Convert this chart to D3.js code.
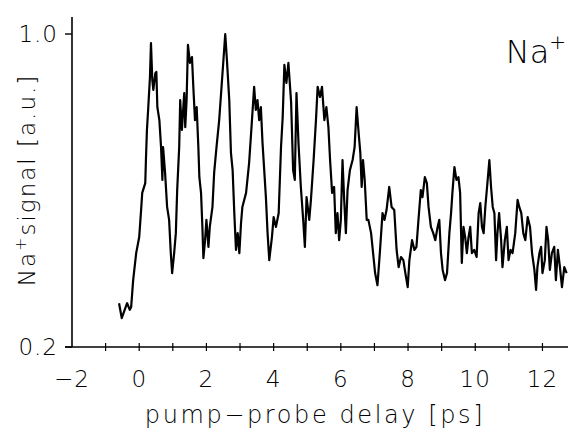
<!DOCTYPE html>
<html>
<head>
<meta charset="utf-8">
<script src="https://cdn.jsdelivr.net/npm/d3@7"></script>
<style>
  body { margin: 0; background: #fff; }
  svg text { font-family: "DejaVu Sans", "Noto Sans", sans-serif; font-weight: 200; fill: #000; }
</style>
</head>
<body>
<div id="chart"></div>
<script>
// pump-probe delay [ps]
const delay = [-0.60,-0.52,-0.36,-0.28,-0.24,-0.18,-0.09,0.00,0.05,0.09,0.18,0.20,0.23,0.27,0.32,0.35,0.39,0.42,0.48,0.51,
  0.54,0.60,0.65,0.69,0.71,0.77,0.83,0.89,0.94,0.98,1.04,1.09,1.13,1.19,1.22,1.27,1.34,1.37,1.41,1.45,
  1.51,1.57,1.61,1.66,1.71,1.76,1.79,1.84,1.88,1.91,1.96,2.00,2.06,2.10,2.18,2.23,2.30,2.38,2.45,2.50,
  2.56,2.61,2.68,2.73,2.78,2.83,2.88,2.93,2.98,3.03,3.07,3.18,3.27,3.35,3.42,3.47,3.52,3.57,3.62,3.67,
  3.72,3.77,3.82,3.87,3.95,4.00,4.07,4.15,4.22,4.27,4.32,4.38,4.44,4.52,4.58,4.63,4.68,4.74,4.81,4.88,
  4.93,4.98,5.06,5.11,5.19,5.26,5.31,5.38,5.44,5.51,5.57,5.63,5.68,5.74,5.80,5.85,5.90,5.95,6.00,6.05,
  6.10,6.15,6.20,6.27,6.35,6.41,6.47,6.53,6.58,6.62,6.66,6.71,6.77,6.82,6.90,6.96,7.02,7.09,7.16,7.24,
  7.30,7.36,7.44,7.51,7.59,7.66,7.72,7.79,7.86,7.92,7.99,8.04,8.12,8.19,8.25,8.31,8.38,8.43,8.50,8.56,
  8.61,8.68,8.75,8.81,8.88,8.93,8.98,9.03,9.10,9.16,9.23,9.28,9.32,9.38,9.44,9.50,9.55,9.60,9.65,9.70,
  9.75,9.80,9.85,9.90,9.97,10.04,10.10,10.15,10.20,10.25,10.30,10.37,10.42,10.47,10.52,10.57,10.62,10.66,10.71,10.77,
  10.81,10.88,10.94,10.99,11.05,11.11,11.19,11.26,11.31,11.37,11.43,11.49,11.56,11.63,11.69,11.76,11.81,11.85,11.91,11.96,
  12.00,12.07,12.12,12.17,12.22,12.28,12.35,12.40,12.46,12.52,12.58,12.65,12.72];

// Na+ signal [a.u.]
const signal = [0.312,0.274,0.312,0.295,0.302,0.371,0.440,0.481,0.542,0.594,0.619,0.678,0.755,0.813,0.890,0.977,0.882,0.857,0.900,0.903,
  0.813,0.780,0.711,0.627,0.711,0.645,0.558,0.525,0.440,0.389,0.440,0.491,0.601,0.711,0.831,0.755,0.849,0.762,0.831,0.972,
  0.926,0.941,0.865,0.780,0.813,0.711,0.634,0.594,0.507,0.427,0.473,0.525,0.456,0.507,0.558,0.645,0.711,0.780,0.865,0.926,
  1.000,0.934,0.831,0.696,0.652,0.542,0.448,0.491,0.440,0.517,0.558,0.594,0.670,0.773,0.865,0.806,0.831,0.780,0.813,0.721,
  0.652,0.583,0.491,0.422,0.481,0.532,0.507,0.542,0.711,0.788,0.921,0.875,0.926,0.826,0.652,0.627,0.849,0.721,0.609,0.525,
  0.456,0.583,0.525,0.576,0.678,0.780,0.865,0.839,0.865,0.780,0.813,0.762,0.678,0.594,0.609,0.491,0.542,0.473,0.525,0.678,
  0.576,0.491,0.601,0.652,0.678,0.711,0.813,0.747,0.696,0.609,0.678,0.627,0.525,0.525,0.491,0.440,0.389,0.358,0.440,0.542,
  0.525,0.550,0.609,0.558,0.550,0.448,0.404,0.430,0.422,0.389,0.353,0.422,0.473,0.448,0.456,0.525,0.601,0.583,0.634,0.619,
  0.558,0.507,0.491,0.473,0.507,0.525,0.440,0.397,0.371,0.389,0.491,0.542,0.594,0.660,0.627,0.634,0.594,0.415,0.507,0.481,
  0.440,0.481,0.507,0.440,0.448,0.430,0.542,0.568,0.507,0.491,0.558,0.627,0.678,0.609,0.558,0.542,0.422,0.491,0.542,0.473,
  0.404,0.473,0.507,0.422,0.448,0.440,0.491,0.576,0.558,0.542,0.491,0.473,0.532,0.507,0.440,0.397,0.346,0.404,0.440,0.456,
  0.389,0.422,0.507,0.473,0.397,0.440,0.456,0.371,0.448,0.404,0.353,0.404,0.389];

const xTickLabels = [-2, 0, 2, 4, 6, 8, 10, 12];
const xMinorTicks = [-1, 0, 1, 2, 3, 4, 5, 6, 7, 8, 9, 10, 11, 12];
const yTickLabels = [0.2, 1.0];

const width = 568, height = 437;

const svg = d3.select('#chart')
  .append('svg')
  .attr('width', width)
  .attr('height', height);

const x = d3.scaleLinear().domain([-2, 12.76]).range([72, 568]);
const y = d3.scaleLinear().domain([0.2, 1.0]).range([347, 34]);

const pts = delay.map((d, i) => ({ t: d, v: signal[i] }));

// axis lines
svg.append('line')
  .attr('x1', x(-2)).attr('x2', x(-2))
  .attr('y1', 17).attr('y2', y(0.2))
  .attr('stroke', '#000').attr('stroke-width', 1.6);

svg.append('line')
  .attr('x1', x(-2) - 7).attr('x2', width)
  .attr('y1', y(0.2)).attr('y2', y(0.2))
  .attr('stroke', '#000').attr('stroke-width', 1.6);

// x ticks cross the axis line
svg.selectAll('.xtick')
  .data(xMinorTicks)
  .enter()
  .append('line')
  .attr('class', 'xtick')
  .attr('x1', d => x(d)).attr('x2', d => x(d))
  .attr('y1', y(0.2) - 4).attr('y2', y(0.2) + 4)
  .attr('stroke', '#000').attr('stroke-width', 1.2);

svg.selectAll('.xlab')
  .data(xTickLabels)
  .enter()
  .append('text')
  .attr('class', 'xlab')
  .attr('x', d => x(d))
  .attr('y', 387)
  .attr('text-anchor', 'middle')
  .style('font-size', '23px')
  .style('letter-spacing', '1px')
  .text(d => d < 0 ? '\u2212' + Math.abs(d) : d);

// y ticks
svg.selectAll('.ytick')
  .data(yTickLabels)
  .enter()
  .append('line')
  .attr('class', 'ytick')
  .attr('x1', x(-2) - 7).attr('x2', x(-2))
  .attr('y1', d => y(d)).attr('y2', d => y(d))
  .attr('stroke', '#000').attr('stroke-width', 1.4);

svg.selectAll('.ylab')
  .data(yTickLabels)
  .enter()
  .append('text')
  .attr('class', 'ylab')
  .attr('x', 58)
  .attr('y', d => y(d) + 8)
  .attr('text-anchor', 'end')
  .style('font-size', '23px')
  .style('letter-spacing', '1px')
  .text(d => d.toFixed(1));

// axis titles
svg.append('text')
  .attr('x', 315)
  .attr('y', 423)
  .attr('text-anchor', 'middle')
  .style('font-size', '24px')
  .style('letter-spacing', '2.6px')
  .text('pump\u2212probe delay [ps]');

const yt = svg.append('text')
  .attr('transform', 'translate(35,180) rotate(-90)')
  .attr('text-anchor', 'middle')
  .style('font-size', '23px')
  .style('letter-spacing', '2px');
yt.append('tspan').text('Na');
yt.append('tspan').attr('dy', -9).style('font-size', '16px').text('+');
yt.append('tspan').attr('dy', 9).text('signal [a.u.]');

// species label
const sp = svg.append('text')
  .attr('x', 566)
  .attr('y', 63)
  .attr('text-anchor', 'end')
  .style('font-size', '32px');
sp.append('tspan').text('Na');
sp.append('tspan').attr('dy', -14).style('font-size', '20px').text('+');

// trace
const line = d3.line()
  .x(d => x(d.t))
  .y(d => y(d.v));

svg.append('path')
  .datum(pts)
  .attr('d', line)
  .attr('fill', 'none')
  .attr('stroke', '#000')
  .attr('stroke-width', 2.2)
  .attr('stroke-linejoin', 'round');
</script>
</body>
</html>
